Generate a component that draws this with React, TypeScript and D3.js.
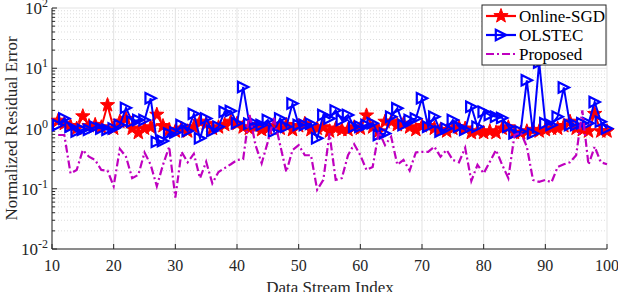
import React from "react";
import * as d3 from "d3";

const streamIndex = [11,12,13,14,15,16,17,18,19,20,21,22,23,24,25,26,27,28,29,30,31,32,33,34,35,36,37,38,39,40,41,42,43,44,45,46,47,48,49,50,51,52,53,54,55,56,57,58,59,60,61,62,63,64,65,66,67,68,69,70,71,72,73,74,75,76,77,78,79,80,81,82,83,84,85,86,87,88,89,90,91,92,93,94,95,96,97,98,99,100];

const onlineSGD = [1.35,1.2,1.1,1.0,1.6,1.1,1.15,1.05,2.45,1.0,
1.3,1.45,1.0,0.85,1.0,1.05,1.7,1.1,0.95,0.9,
1.0,0.9,1.05,1.3,1.2,1.0,1.05,1.15,1.3,1.2,
1.05,1.0,1.05,0.95,1.0,1.1,1.0,1.15,0.95,1.1,
1.2,0.95,1.0,1.05,0.9,1.0,0.95,0.95,1.05,1.0,
1.65,1.05,0.9,1.3,1.3,1.15,1.2,1.05,0.95,1.1,
1.1,1.0,0.95,0.9,1.0,1.05,1.0,0.85,0.9,0.85,
0.9,0.85,1.0,1.05,0.85,0.85,0.9,0.95,0.9,0.95,
1.0,1.0,1.1,1.3,1.0,0.95,0.9,1.75,0.9,0.9];

const olstec = [1.14,1.47,1.07,0.89,0.95,0.95,1.07,1.0,0.95,1.0,
1.14,2.2,1.3,1.38,1.38,3.17,0.6,0.62,0.83,0.86,
1.14,0.91,1.75,0.69,1.47,0.91,1.07,1.9,1.95,1.22,
4.9,1.2,1.2,1.14,1.38,0.89,1.47,1.07,2.6,1.14,
1.14,1.2,0.69,1.67,1.47,2.0,1.38,1.67,1.07,1.07,
1.14,1.22,0.78,0.83,1.57,2.16,1.14,1.38,1.47,3.17,
1.07,1.57,0.89,1.0,1.38,1.07,0.95,2.3,1.07,1.9,
1.67,1.57,1.5,1.07,0.83,0.89,6.3,0.83,12.5,1.22,
1.14,1.57,4.8,1.14,1.14,1.22,1.22,2.75,1.3,1.0];

const proposed = [0.78,0.78,0.18,0.205,0.44,0.34,0.30,0.205,0.20,0.11,
0.46,0.34,0.15,0.17,0.40,0.25,0.11,0.25,0.50,0.071,
0.41,0.275,0.38,0.15,0.28,0.123,0.19,0.22,0.255,0.30,
0.31,1.78,0.53,0.265,0.6,1.5,0.53,0.19,0.44,0.53,
0.36,0.36,0.096,0.14,0.83,0.14,0.15,0.36,0.55,0.36,
0.205,0.23,0.89,0.53,0.73,0.25,0.30,0.20,0.40,0.41,
0.41,0.50,0.34,0.44,0.30,0.275,0.48,0.135,0.25,0.18,
0.28,0.44,0.25,0.15,0.78,0.86,0.50,0.14,0.13,0.14,
0.128,0.23,0.255,0.275,0.36,2.0,0.25,0.50,0.275,0.255];

const xTicks = [10,20,30,40,50,60,70,80,90,100];
const yExponents = [-2,-1,0,1,2];
const legendLabels = ["Online-SGD", "OLSTEC", "Proposed"];

const RED = "#ff0000";
const BLUE = "#0000ff";
const MAG = "#bf00bf";
const FONT = "'Liberation Serif', 'Times New Roman', serif";
const DASH = "8,3,2,3";

const L = 52, R = 607, T = 8, B = 249;

function starPath(cx: number, cy: number, ro: number, ri: number) {
  const pts: string[] = [];
  for (let k = 0; k < 10; k++) {
    const r = k % 2 === 0 ? ro : ri;
    const a = -Math.PI / 2 + (k * Math.PI) / 5;
    pts.push(`${cx + r * Math.cos(a)},${cy + r * Math.sin(a)}`);
  }
  return "M" + pts.join("L") + "Z";
}
function triPath(cx: number, cy: number, r: number) {
  return `M${cx + r},${cy}L${cx - r},${cy - r}L${cx - r},${cy + r}Z`;
}

export default function App() {
  const x = d3.scaleLinear().domain([10, 100]).range([L, R]);
  const y = d3.scaleLog().domain([0.01, 100]).range([B, T]);

  const line = d3
    .line<number>()
    .x((_, i) => x(streamIndex[i]))
    .y((d) => y(d));

  const minorY: number[] = [];
  for (const e of [-2, -1, 0, 1]) {
    for (let m = 2; m <= 9; m++) minorY.push(m * Math.pow(10, e));
  }

  return (
    <svg
      width={618}
      height={292}
      style={{ position: "absolute", left: 0, top: 0, background: "#fff" }}
      fontFamily={FONT}
    >
      <rect x={0} y={0} width={618} height={292} fill="#fff" />
      {minorY.map((v, i) => (
        <line key={"mg" + i} x1={L} x2={R} y1={y(v)} y2={y(v)} stroke="#d4d4d4" strokeWidth={0.8} strokeDasharray="1,2" />
      ))}
      {yExponents.map((e) => (
        <line key={"yg" + e} x1={L} x2={R} y1={y(Math.pow(10, e))} y2={y(Math.pow(10, e))} stroke="#e3e3e3" strokeWidth={1} />
      ))}
      {xTicks.map((t) => (
        <line key={"xg" + t} x1={x(t)} x2={x(t)} y1={T} y2={B} stroke="#e3e3e3" strokeWidth={1} />
      ))}
      <line x1={L} x2={R} y1={B} y2={B} stroke="#262626" strokeWidth={1} />
      <line x1={L} x2={L} y1={T} y2={B} stroke="#262626" strokeWidth={1} />
      {xTicks.map((t) => (
        <g key={"xt" + t}>
          <line x1={x(t)} x2={x(t)} y1={B} y2={B - 5} stroke="#262626" />
          <text x={x(t)} y={271} textAnchor="middle" fontSize={16} fontFamily={FONT} fill="#262626">{t}</text>
        </g>
      ))}
      {yExponents.map((e) => (
        <g key={"yt" + e}>
          <line x1={L} x2={L + 5} y1={y(Math.pow(10, e))} y2={y(Math.pow(10, e))} stroke="#262626" />
          <text x={48} y={y(Math.pow(10, e)) + 6} textAnchor="end" fontSize={17} fontFamily={FONT} fill="#262626">
            10<tspan dy={-7} fontSize={12}>{e}</tspan>
          </text>
        </g>
      ))}
      {minorY.map((v, i) => (
        <line key={"mt" + i} x1={L} x2={L + 3} y1={y(v)} y2={y(v)} stroke="#262626" />
      ))}
      <text x={330} y={293} textAnchor="middle" fontSize={17} fontFamily={FONT} fill="#262626">Data Stream Index</text>
      <text transform={`translate(17,${(T + B) / 2}) rotate(-90)`} textAnchor="middle" fontSize={17} fontFamily={FONT} fill="#262626">
        Normalized Residual Error
      </text>

      <path d={line(onlineSGD) || ""} fill="none" stroke={RED} strokeWidth={2} />
      {onlineSGD.map((v, i) => (
        <path key={"s" + i} d={starPath(x(streamIndex[i]), y(v), 7.5, 3.1)} fill={RED} stroke={RED} strokeWidth={1} />
      ))}
      <path d={line(olstec) || ""} fill="none" stroke={BLUE} strokeWidth={2} />
      {olstec.map((v, i) => (
        <path key={"o" + i} d={triPath(x(streamIndex[i]), y(v), 5.2)} fill="none" stroke={BLUE} strokeWidth={2.2} />
      ))}
      <path d={line(proposed) || ""} fill="none" stroke={MAG} strokeWidth={2.2} strokeDasharray={DASH} />

      <rect x={482} y={5} width={124} height={60} fill="#fff" stroke="#262626" strokeWidth={1} />
      {legendLabels.map((lab, i) => {
        const ly = 16 + i * 19;
        const col = i === 0 ? RED : i === 1 ? BLUE : MAG;
        return (
          <g key={"lg" + i}>
            <line x1={486} x2={516} y1={ly} y2={ly} stroke={col} strokeWidth={2.2} strokeDasharray={i === 2 ? DASH : undefined} />
            {i === 0 && <path d={starPath(501, ly, 7.5, 3.1)} fill={RED} stroke={RED} />}
            {i === 1 && <path d={triPath(501, ly, 5.2)} fill="none" stroke={BLUE} strokeWidth={2.2} />}
            <text x={519} y={ly + 6} fontSize={17} fontFamily={FONT} fill="#000">{lab}</text>
          </g>
        );
      })}
    </svg>
  );
}
